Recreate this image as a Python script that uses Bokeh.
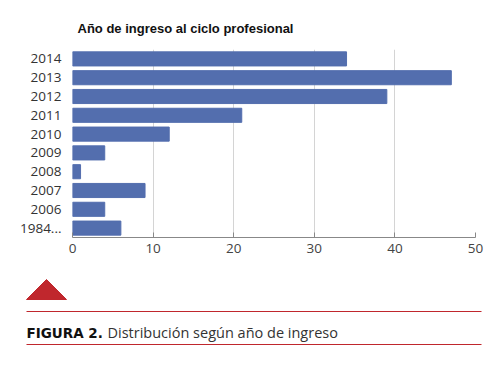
from bokeh.plotting import figure
from bokeh.layouts import column
from bokeh.models import Range1d, FactorRange, FixedTicker
from bokeh.core.properties import value
from bokeh.embed import file_html
from bokeh.resources import INLINE

# Data (bottom to top)
years = ["1984...", "2006", "2007", "2008", "2009", "2010", "2011", "2012", "2013", "2014"]
counts = [6, 4, 9, 1, 4, 12, 21, 39, 47, 34]
x_ticks = [0, 10, 20, 30, 40, 50]

title_text = "Año de ingreso al ciclo profesional"
caption_bold = "FIGURA 2."
caption_text = "Distribución según año de ingreso"

BLUE = "#536eae"
RED = "#c0272d"
TICK_FONT = "Open Sans"


def blank(fig):
    fig.frame_align = False
    fig.axis.visible = False
    fig.grid.visible = False
    fig.outline_line_color = None
    return fig


# Title panel: data coordinates equal page pixels
t = blank(figure(width=490, height=45, x_range=Range1d(0, 490), y_range=Range1d(45, 0),
                 output_backend="svg", toolbar_location=None, min_border=0))
t.text(x=[77], y=[28], text=[title_text], text_font=value("Liberation Sans"), text_font_style="bold",
       text_font_size="13px", text_color="#111111", text_baseline="alphabetic")

# Main chart
p = figure(width=490, height=216, y_range=FactorRange(factors=years, range_padding=0),
           x_range=Range1d(0, 50), output_backend="svg", toolbar_location=None,
           min_border_left=72, min_border_right=15, min_border_top=4, min_border_bottom=24)
p.frame_align = False
p.hbar(y=years, right=counts, left=0, height=0.75, color=BLUE)
p.outline_line_color = None
p.background_fill_color = "white"
p.ygrid.grid_line_color = None
p.xgrid.grid_line_color = "#d4d4d4"
p.xgrid.grid_line_width = 1

p.xaxis.ticker = FixedTicker(ticks=x_ticks)
p.xaxis.axis_line_color = "#888888"
p.xaxis.major_tick_line_color = "#888888"
p.xaxis.major_tick_in = 5
p.xaxis.major_tick_out = 0
p.xaxis.minor_tick_line_color = None
p.xaxis.major_label_text_font = TICK_FONT
p.xaxis.major_label_text_font_size = "13.5px"
p.xaxis.major_label_text_color = "#444444"
p.xaxis.major_label_standoff = 6

p.yaxis.axis_line_color = None
p.yaxis.major_tick_line_color = None
p.yaxis.major_tick_in = 0
p.yaxis.major_tick_out = 0
p.yaxis.minor_tick_line_color = None
p.yaxis.major_label_text_font = TICK_FONT
p.yaxis.major_label_text_font_size = "13.5px"
p.yaxis.major_label_text_color = "#333333"
p.yaxis.major_label_standoff = 11

# Caption panel: data coordinates equal page pixels
c = blank(figure(width=490, height=104, x_range=Range1d(0, 490), y_range=Range1d(365, 261),
                 output_backend="svg", toolbar_location=None, min_border=0))
c.patch(x=[26, 66, 46], y=[299, 299, 279], color=RED)
c.segment(x0=[26, 26], y0=[311, 344], x1=[481, 481], y1=[311, 344], line_color=RED, line_width=1)
c.text(x=[26], y=[332], text=[caption_bold], text_font=value("DejaVu Sans"), text_font_style="bold",
       text_font_size="13.5px", text_color="#111111", text_baseline="alphabetic")
c.text(x=[107], y=[332], text=[caption_text], text_font=value(TICK_FONT),
       text_font_size="14.5px", text_color="#333333", text_baseline="alphabetic")

layout = column(t, p, c, spacing=0)
open("out.html", "w").write(file_html(layout, INLINE))
